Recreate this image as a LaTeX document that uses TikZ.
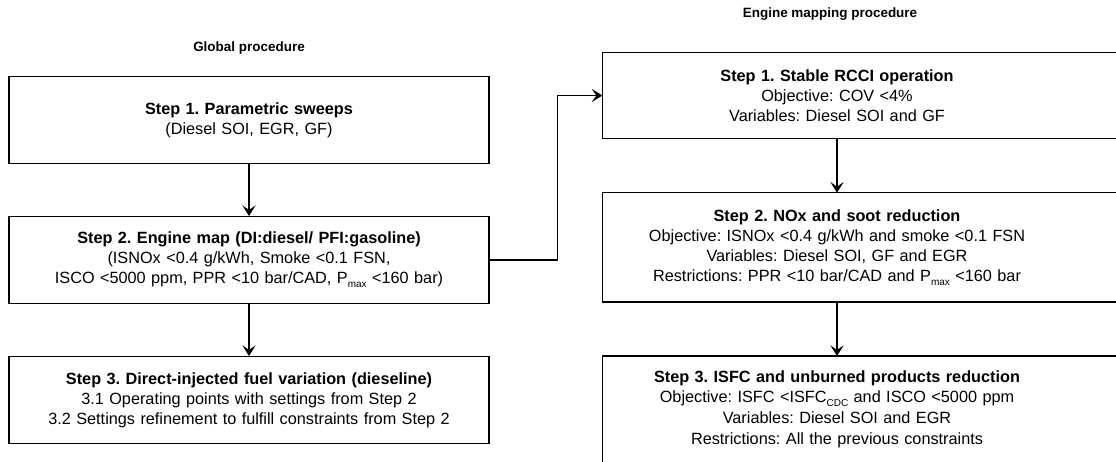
\documentclass[tikz,border=0pt]{standalone}
\usepackage{fontspec}
\setmainfont{Liberation Sans}
\usetikzlibrary{arrows.meta,positioning}
\newcommand{\lowsub}[1]{\raisebox{-3pt}{\fontsize{7.5}{8}\selectfont #1}}

\begin{document}
\begin{tikzpicture}[->,>={Stealth[length=8pt,width=10pt,inset=3.5pt]},
  x=0.75pt,y=-0.75pt,line width=1pt,
  node distance=39pt,font=\fontsize{12.2}{15}\selectfont\frenchspacing]
  \tikzset{
    stepbox/.style={draw,rectangle,minimum width=360pt,minimum height=65pt,
      text width=345pt,align=center,inner sep=0pt},
    cutbox/.style={rectangle,minimum width=351pt,text width=340pt,
      align=center,inner sep=0pt},
    title/.style={font=\fontsize{10.1}{12}\selectfont\bfseries}
  }
  \useasboundingbox (0,0) rectangle (1116,461);
  \clip (0,0) rectangle (1116,461);

  % global procedure
  \node[title] (gtitle) at (249,48) {Global procedure};
  \node[stepbox] (g1) at (249,120)
    {\textbf{Step 1. Parametric sweeps}\\(Diesel SOI, EGR, GF)};
  \node[stepbox,below=of g1] (g2)
    {\textbf{Step 2. Engine map (DI:diesel/ PFI:gasoline)}\\
     (ISNOx <0.4 g/kWh, Smoke <0.1 FSN,\\
     ISCO <5000 ppm, PPR <10 bar/CAD, P\lowsub{max} <160 bar)};
  \node[stepbox,below=of g2] (g3)
    {\textbf{Step 3. Direct-injected fuel variation (dieseline)}\\
     3.1 Operating points with settings from Step 2\\
     3.2 Settings refinement to fulfill constraints from Step 2};

  % engine mapping procedure
  \node[title] (mtitle) at (830,14) {Engine mapping procedure};
  \node[cutbox,minimum height=63.75pt] (m1) at (837,95.5)
    {\textbf{Step 1. Stable RCCI operation}\\
     Objective: COV <4\%\\
     Variables: Diesel SOI and GF};
  \node[cutbox,minimum height=81pt,below=40.5pt of m1] (m2)
    {\textbf{Step 2. NOx and soot reduction}\\
     Objective: ISNOx <0.4 g/kWh and smoke <0.1 FSN\\
     Variables: Diesel SOI, GF and EGR\\
     Restrictions: PPR <10 bar/CAD and P\lowsub{max} <160 bar};
  \node[cutbox,minimum height=79pt,below=40.5pt of m2] (m3)
    {\textbf{Step 3. ISFC and unburned products reduction}\\
     Objective: ISFC <ISFC\lowsub{CDC} and ISCO <5000 ppm\\[1pt]
     Variables: Diesel SOI and EGR\\[1pt]
     Restrictions: All the previous constraints};

  % frames run off the right edge
  \draw[-] (m1.north west) rectangle ([xshift=60pt]m1.south east);
  \draw[-] (m2.north west) rectangle ([xshift=60pt]m2.south east);
  \draw[-] (m3.north west) rectangle ([xshift=60pt,yshift=-20pt]m3.south east);

  \draw (g1) -- (g2);
  \draw (g2) -- (g3);
  \draw (g2.east) -- ++(68,0) |- (m1.west);
  \draw (m1) -- (m2);
  \draw (m2) -- (m3);
\end{tikzpicture}
\end{document}
